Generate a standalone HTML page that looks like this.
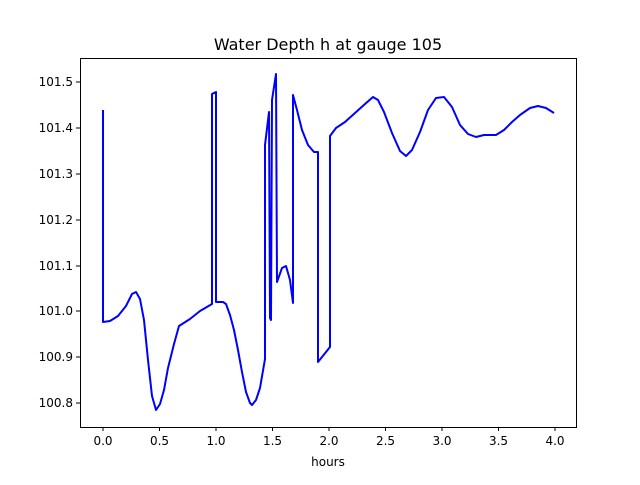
<!DOCTYPE html>
<html><head><style>body{margin:0;background:#fff}svg text{font-family:"DejaVu Sans","Liberation Sans",sans-serif}</style></head>
<body>
<svg width="640" height="480" xmlns="http://www.w3.org/2000/svg">
<rect width="640" height="480" fill="#fff"/>
<text x="328" y="50" font-size="16" text-anchor="middle">Water Depth h at gauge 105</text>
<g stroke="#000" stroke-width="1">
<line x1="103" y1="427" x2="103" y2="431"/><line x1="159.5" y1="427" x2="159.5" y2="431"/><line x1="216" y1="427" x2="216" y2="431"/><line x1="272.5" y1="427" x2="272.5" y2="431"/><line x1="329" y1="427" x2="329" y2="431"/><line x1="385.5" y1="427" x2="385.5" y2="431"/><line x1="442" y1="427" x2="442" y2="431"/><line x1="498.5" y1="427" x2="498.5" y2="431"/><line x1="555" y1="427" x2="555" y2="431"/>
<line x1="76" y1="403" x2="80" y2="403"/><line x1="76" y1="357" x2="80" y2="357"/><line x1="76" y1="311" x2="80" y2="311"/><line x1="76" y1="266" x2="80" y2="266"/><line x1="76" y1="220" x2="80" y2="220"/><line x1="76" y1="174" x2="80" y2="174"/><line x1="76" y1="128" x2="80" y2="128"/><line x1="76" y1="82" x2="80" y2="82"/>
</g>
<g font-size="12" text-anchor="middle">
<text x="103" y="445">0.0</text><text x="159.5" y="445">0.5</text><text x="216" y="445">1.0</text><text x="272.5" y="445">1.5</text><text x="329" y="445">2.0</text><text x="385.5" y="445">2.5</text><text x="442" y="445">3.0</text><text x="498.5" y="445">3.5</text><text x="555" y="445">4.0</text>
<text x="328" y="466">hours</text>
</g>
<g font-size="12" text-anchor="end">
<text x="73" y="407">100.8</text><text x="73" y="361">100.9</text><text x="73" y="315">101.0</text><text x="73" y="270">101.1</text><text x="73" y="224">101.2</text><text x="73" y="178">101.3</text><text x="73" y="132">101.4</text><text x="73" y="86">101.5</text>
</g>
<polyline fill="none" stroke="#0000ff" stroke-width="2" stroke-linejoin="round" points="103,110 103,322 110,321 118,316 126,306 132,294 136,292 140,299 144,320 148,360 152,396 156,410 160,404 164,390 168,368 174,344 179,326 190,319 200,311 212,304 212,94 216,92 216,302 223,302 226,304 230,315 234,330 238,350 242,372 246,392 250,403 252,405 256,400 260,388 265,359 265,145 269,112 270,318 271,320 272,100 276,74 277,282 282,268 286,266 290,280 293,303 293,95 297,110 302,130 308,145 314,152 318,152 318,362 322,357 330,347 330,136 336,128 345,122 355,113 365,104 373,97 378,100 384,112 392,133 400,151 406,156 412,150 420,132 428,110 436,98 444,97 452,107 460,125 468,134 476,137 484,135 496,135 504,130 512,122 520,115 530,108 538,106 546,108 554,113"/>
<rect x="80.5" y="58.5" width="496" height="369" fill="none" stroke="#000" stroke-width="1"/>
</svg>
</body></html>
